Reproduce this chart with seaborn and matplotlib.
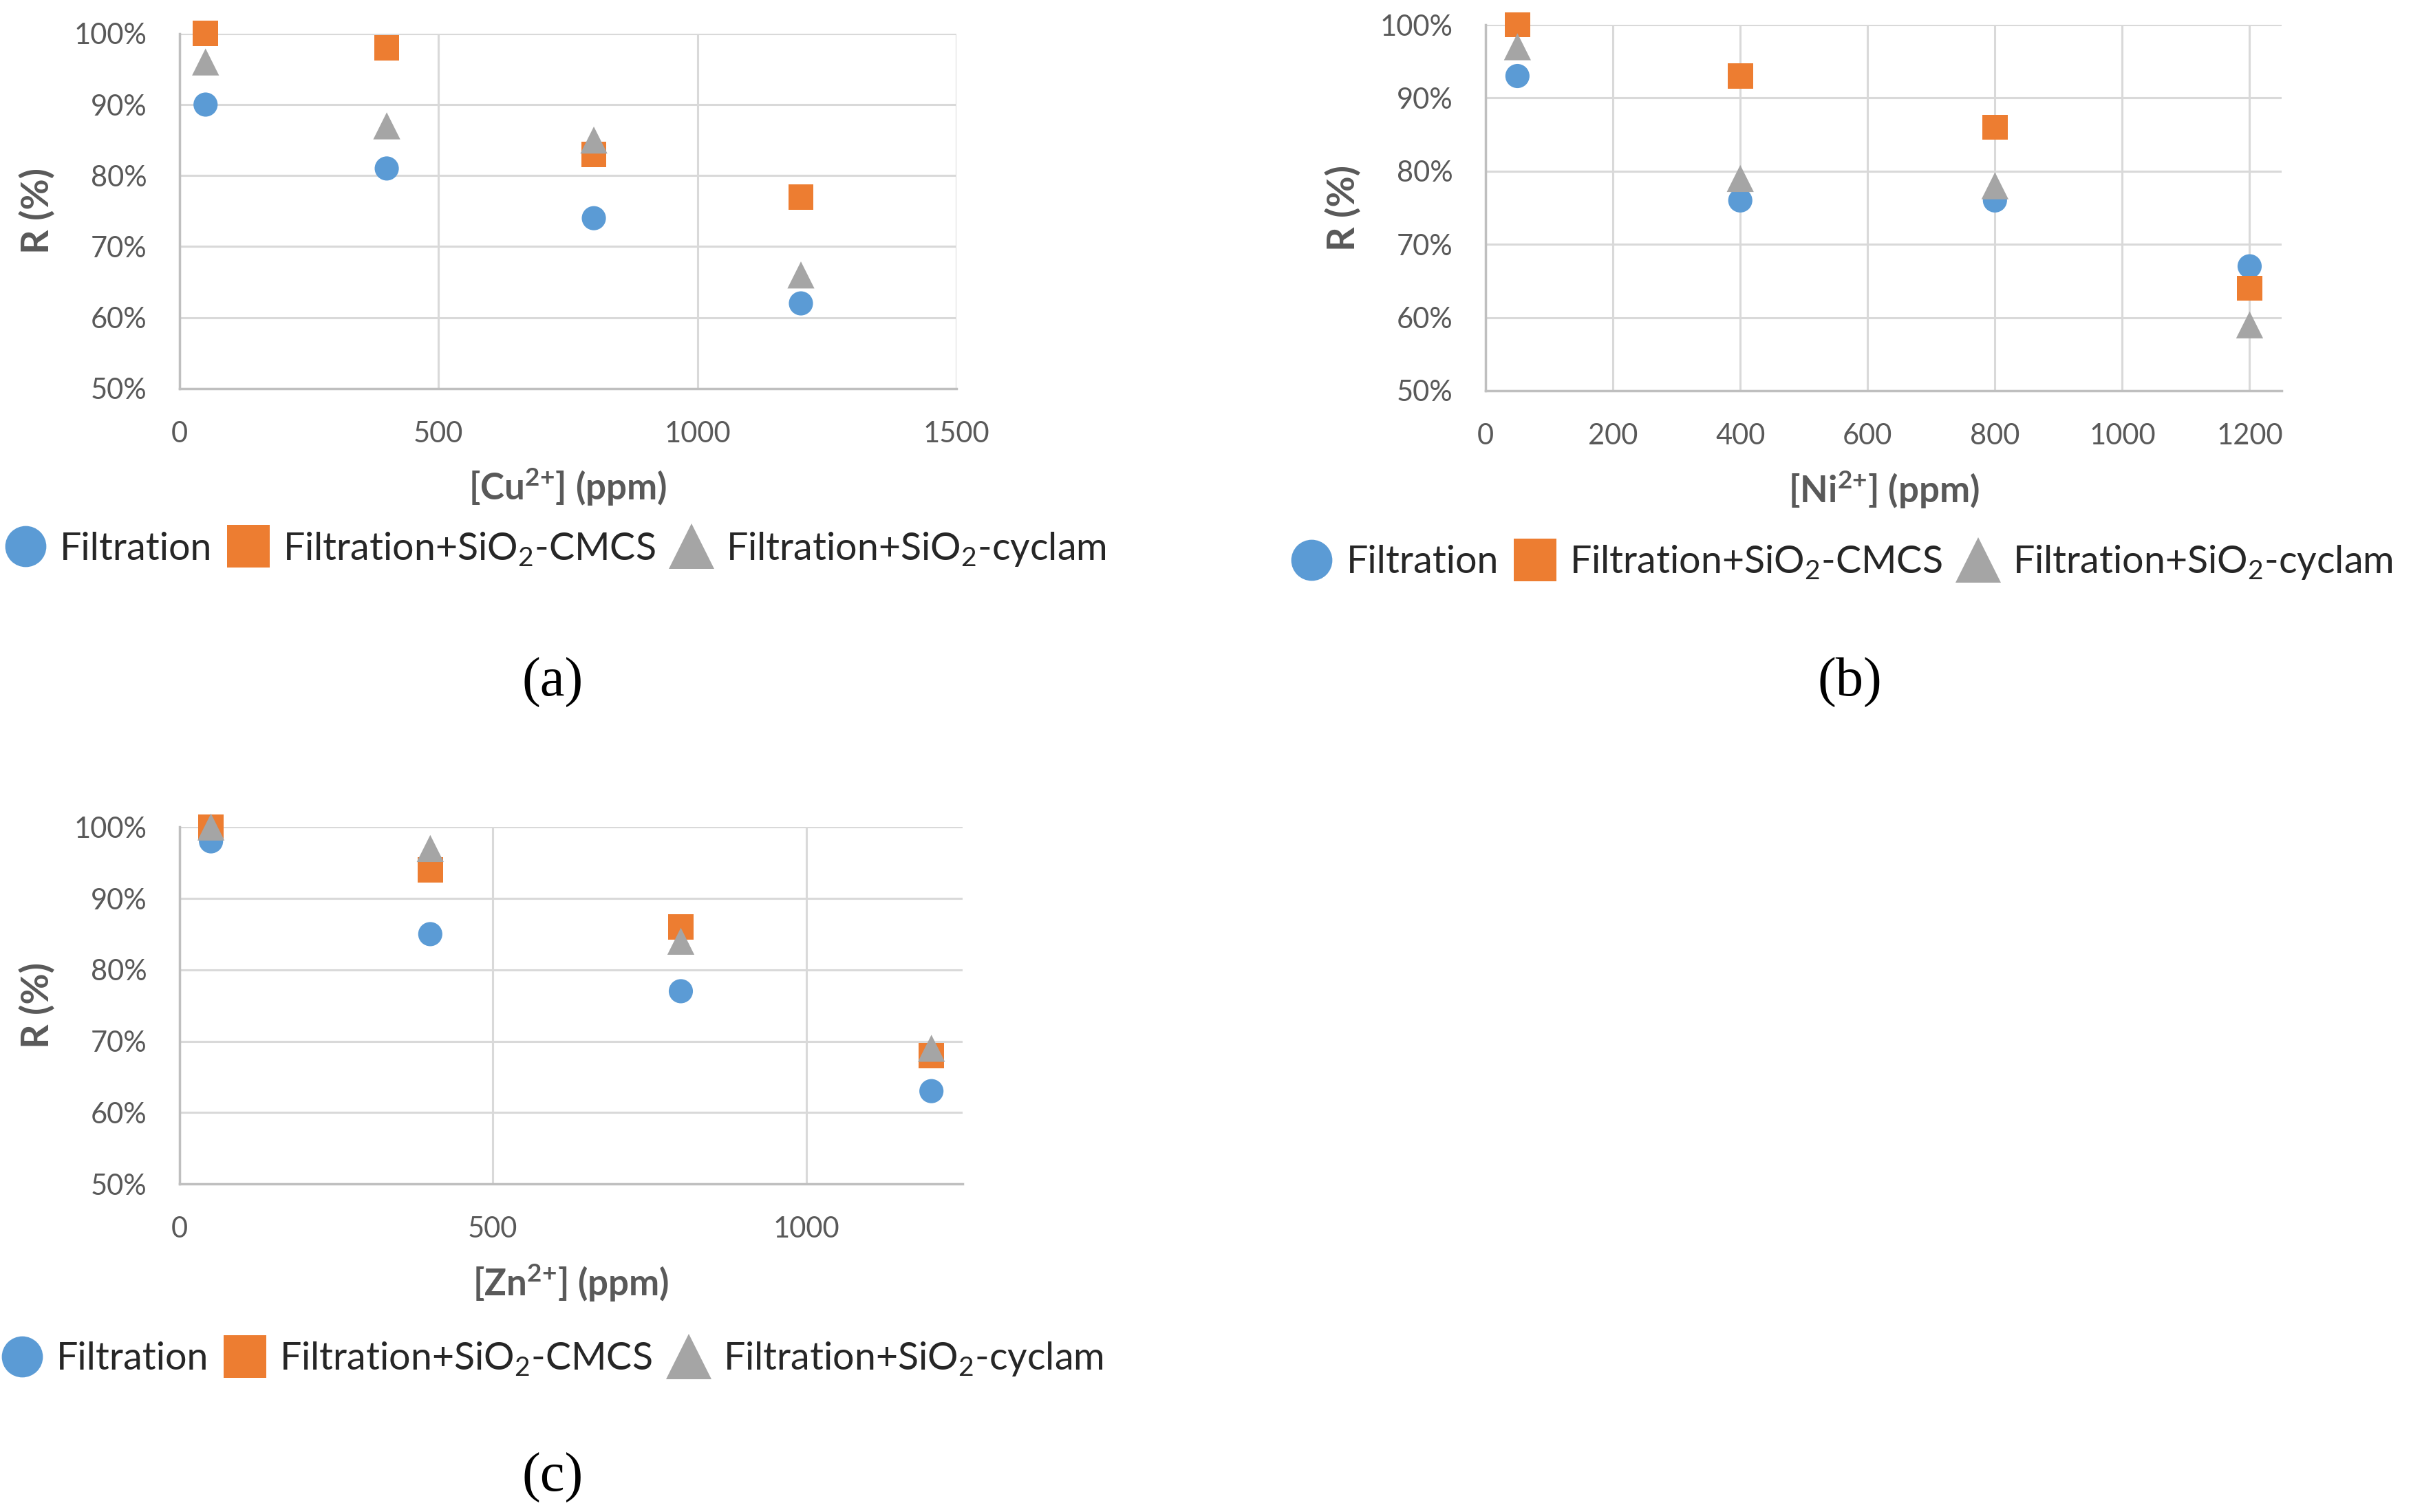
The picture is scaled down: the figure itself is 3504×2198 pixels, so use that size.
import matplotlib
matplotlib.use("Agg")
import matplotlib.pyplot as plt
import seaborn as sns
import pandas as pd
from matplotlib.ticker import PercentFormatter, MultipleLocator

# concentrations (ppm) used in every panel
conc = [50, 400, 800, 1200]
series_names = ["Filtration", "Filtration+SiO$_2$-CMCS", "Filtration+SiO$_2$-cyclam"]

# (a) Cu2+
cu_filtration = [90, 81, 74, 62]
cu_cmcs = [100, 98, 83, 77]
cu_cyclam = [96, 87, 85, 66]

# (b) Ni2+
ni_filtration = [93, 76, 76, 67]
ni_cmcs = [100, 93, 86, 64]
ni_cyclam = [97, 79, 78, 59]

# (c) Zn2+
zn_filtration = [98, 85, 77, 63]
zn_cmcs = [100, 94, 86, 68]
zn_cyclam = [100, 97, 84, 69]

sns.set_theme(style="white")
plt.rcParams["font.family"] = ["Lato", "DejaVu Sans"]
plt.rcParams["mathtext.fontset"] = "custom"
plt.rcParams["mathtext.rm"] = "Lato"
plt.rcParams["mathtext.bf"] = "Lato:bold"

palette = {series_names[0]: "#5B9BD5", series_names[1]: "#ED7D31", series_names[2]: "#A5A5A5"}
markers = {series_names[0]: "o", series_names[1]: "s", series_names[2]: "^"}
sizes = {series_names[0]: 640, series_names[1]: 700, series_names[2]: 800}

fig = plt.figure(figsize=(35.05, 21.98), dpi=100)

panels = [
    dict(vals=(cu_filtration, cu_cmcs, cu_cyclam), label="[Cu$^{\\mathbf{2{+}}}$] (ppm)",
         rect=[0.0745, 0.743, 0.322, 0.2348], xmax=1500, xstep=500, leg=(0.486, -0.452), cap="(a)", capxy=(0.229, 0.532)),
    dict(vals=(ni_filtration, ni_cmcs, ni_cyclam), label="[Ni$^{\\mathbf{2{+}}}$] (ppm)",
         rect=[0.616, 0.7416, 0.330, 0.242], xmax=1250, xstep=200, leg=(0.45, -0.47), cap="(b)", capxy=(0.767, 0.532)),
    dict(vals=(zn_filtration, zn_cmcs, zn_cyclam), label="[Zn$^{\\mathbf{2{+}}}$] (ppm)",
         rect=[0.0745, 0.217, 0.3247, 0.236], xmax=1250, xstep=500, leg=(0.478, -0.491), cap="(c)", capxy=(0.229, 0.006)),
]

for p in panels:
    ax = fig.add_axes(p["rect"])
    df = pd.concat([
        pd.DataFrame({"conc": conc, "R": v, "series": name})
        for name, v in zip(series_names, p["vals"])
    ])
    sns.scatterplot(data=df, x="conc", y="R", hue="series", style="series", size="series",
                    palette=palette, markers=markers, sizes=sizes, linewidth=0,
                    ax=ax, clip_on=False, zorder=3)
    ax.set_xlim(0, p["xmax"])
    ax.set_ylim(50, 100)
    ax.xaxis.set_major_locator(MultipleLocator(p["xstep"]))
    ax.yaxis.set_major_locator(MultipleLocator(10))
    ax.yaxis.set_major_formatter(PercentFormatter(xmax=100, decimals=0))
    ax.grid(True, color="#D9D9D9", linewidth=2.2, zorder=0)
    ax.set_axisbelow(True)
    for s in ["top", "right"]:
        ax.spines[s].set_visible(False)
    for s in ["left", "bottom"]:
        ax.spines[s].set_color("#BFBFBF")
        ax.spines[s].set_linewidth(2.5)
    ax.tick_params(length=0, labelsize=30, labelcolor="#595959", pad=34)
    ax.set_xlabel(p["label"], fontsize=38, fontweight="bold", color="#595959", labelpad=20)
    ax.set_ylabel("R (%)", fontsize=40, fontweight="bold", color="#595959", labelpad=20)

    handles, labels = ax.get_legend_handles_labels()
    ax.legend(handles, labels, loc="center", bbox_to_anchor=p["leg"], ncol=3, frameon=False,
              fontsize=40, markerscale=1.7, handlelength=0.9, handletextpad=0.45,
              columnspacing=0.5, labelcolor="#262626")

    fig.text(p["capxy"][0], p["capxy"][1], p["cap"], fontsize=58, family="Liberation Serif",
             ha="center", va="bottom", color="black")

fig.savefig("out.png", dpi=100)
